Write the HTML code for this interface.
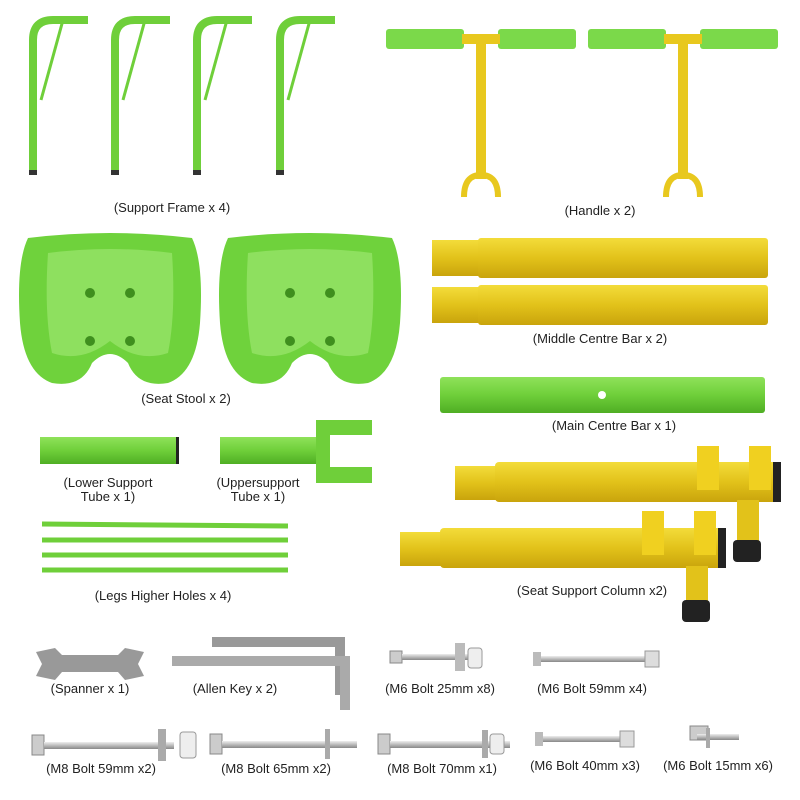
<!DOCTYPE html>
<html><head><meta charset="utf-8"><style>
body{margin:0;background:#fff}
svg{display:block}
text{font-family:"Liberation Sans",sans-serif;font-size:13px;fill:#222;text-anchor:middle}
</style></head><body>
<svg width="800" height="800" viewBox="0 0 800 800">
<defs>
<linearGradient id="gy" x1="0" y1="0" x2="0" y2="1"><stop offset="0" stop-color="#f3dc3a"/><stop offset=".5" stop-color="#e2c21a"/><stop offset="1" stop-color="#c9a40c"/></linearGradient>
<linearGradient id="gg" x1="0" y1="0" x2="0" y2="1"><stop offset="0" stop-color="#8fe25a"/><stop offset=".5" stop-color="#6fcf3a"/><stop offset="1" stop-color="#4fae24"/></linearGradient>
<linearGradient id="gm" x1="0" y1="0" x2="0" y2="1"><stop offset="0" stop-color="#eee"/><stop offset=".5" stop-color="#bbb"/><stop offset="1" stop-color="#888"/></linearGradient>
<g id="frame"><path d="M0 175 V40 Q0 20 20 20 H55" fill="none" stroke="#6fcf3a" stroke-width="8"/><path d="M30 20 L8 100" stroke="#6fcf3a" stroke-width="3"/><rect x="-4" y="170" width="8" height="5" fill="#333"/></g>
<g id="handle"><rect x="0" y="0" width="78" height="20" rx="3" fill="#7bd94a"/><rect x="112" y="0" width="78" height="20" rx="3" fill="#7bd94a"/><rect x="76" y="5" width="38" height="10" fill="#e8c81e"/><rect x="90" y="10" width="10" height="140" fill="#e8c81e"/><path d="M78 168 Q78 146 95 146 Q112 146 112 168" fill="none" stroke="#e8c81e" stroke-width="6"/></g>
<g id="seat"><path d="M10 5 Q92 -5 174 5 Q186 30 182 90 Q178 140 150 150 Q120 155 110 130 Q92 112 74 130 Q64 155 34 150 Q6 140 2 90 Q-2 30 10 5Z" fill="#6fd23c"/><path d="M30 20 Q92 12 154 20 Q158 80 150 120 Q120 130 92 108 Q64 130 34 120 Q26 80 30 20Z" fill="#8ee05f"/><circle cx="72" cy="60" r="5" fill="#3f8f1e"/><circle cx="112" cy="60" r="5" fill="#3f8f1e"/><circle cx="72" cy="108" r="5" fill="#3f8f1e"/><circle cx="112" cy="108" r="5" fill="#3f8f1e"/></g>
<g id="bolt"><rect x="0" y="-6" width="12" height="12" fill="#ccc" stroke="#888"/><rect x="12" y="-3" width="80" height="6" fill="url(#gm)"/></g>
</defs>
<use href="#frame" x="33" y="0"/><use href="#frame" x="115" y="0"/><use href="#frame" x="197" y="0"/><use href="#frame" x="280" y="0"/>
<text x="172" y="212">(Support Frame x 4)</text>
<use href="#handle" x="386" y="29"/><use href="#handle" x="588" y="29"/>
<text x="600" y="215">(Handle x 2)</text>
<use href="#seat" x="18" y="233"/><use href="#seat" x="218" y="233"/>
<text x="186" y="403">(Seat Stool x 2)</text>
<rect x="432" y="240" width="50" height="36" fill="url(#gy)"/><rect x="478" y="238" width="290" height="40" rx="3" fill="url(#gy)"/>
<rect x="432" y="287" width="50" height="36" fill="url(#gy)"/><rect x="478" y="285" width="290" height="40" rx="3" fill="url(#gy)"/>
<text x="600" y="343">(Middle Centre Bar x 2)</text>
<rect x="440" y="377" width="325" height="36" rx="3" fill="url(#gg)"/><circle cx="602" cy="395" r="4" fill="#fff"/>
<text x="614" y="430">(Main Centre Bar x 1)</text>
<rect x="40" y="437" width="138" height="27" fill="url(#gg)"/><rect x="176" y="437" width="3" height="27" fill="#222"/>
<text x="108" y="487">(Lower Support</text><text x="108" y="501">Tube x 1)</text>
<rect x="220" y="437" width="98" height="27" fill="url(#gg)"/><path d="M316 420 H372 V435 H330 V467 H372 V483 H316Z" fill="#6fcf3a"/>
<text x="258" y="487">(Uppersupport</text><text x="258" y="501">Tube x 1)</text>
<g stroke="#6fcf3a" stroke-width="5"><line x1="42" y1="524" x2="288" y2="526"/><line x1="42" y1="540" x2="288" y2="540"/><line x1="42" y1="555" x2="288" y2="555"/><line x1="42" y1="570" x2="288" y2="570"/></g>
<text x="163" y="600">(Legs Higher Holes x 4)</text>
<rect x="455" y="466" width="45" height="34" fill="url(#gy)"/><rect x="495" y="462" width="285" height="40" rx="4" fill="url(#gy)"/><rect x="773" y="462" width="8" height="40" fill="#222"/>
<rect x="737" y="500" width="22" height="45" fill="#e2c21a"/><rect x="733" y="540" width="28" height="22" rx="4" fill="#222"/>
<rect x="697" y="446" width="22" height="44" fill="#f0d020"/><rect x="749" y="446" width="22" height="44" fill="#f0d020"/>
<rect x="400" y="532" width="45" height="34" fill="url(#gy)"/><rect x="440" y="528" width="285" height="40" rx="4" fill="url(#gy)"/><rect x="718" y="528" width="8" height="40" fill="#222"/>
<rect x="686" y="566" width="22" height="40" fill="#e2c21a"/><rect x="682" y="600" width="28" height="22" rx="4" fill="#222"/>
<rect x="642" y="511" width="22" height="44" fill="#f0d020"/><rect x="694" y="511" width="22" height="44" fill="#f0d020"/>
<text x="592" y="595">(Seat Support Column x2)</text>
<path d="M36 652 L55 648 L62 655 H118 L125 648 L144 652 L138 664 L144 676 L125 680 L118 672 H62 L55 680 L36 676 L42 664Z" fill="#999"/>
<text x="90" y="693">(Spanner x 1)</text>
<path d="M212 637 H345 V695 H335 V647 H212Z" fill="#999"/><path d="M172 656 H350 V710 H340 V666 H172Z" fill="#aaa"/>
<text x="235" y="693">(Allen Key x 2)</text>
<use href="#bolt" x="390" y="657" transform="translate(0,0)"/><rect x="455" y="643" width="10" height="28" fill="#bbb"/><rect x="468" y="648" width="14" height="20" rx="3" fill="#eee" stroke="#999"/>
<text x="440" y="693">(M6 Bolt 25mm x8)</text>
<rect x="533" y="656" width="120" height="6" fill="url(#gm)"/><rect x="533" y="652" width="8" height="14" fill="#bbb"/><rect x="645" y="651" width="14" height="16" fill="#ddd" stroke="#999"/>
<text x="592" y="693">(M6 Bolt 59mm x4)</text>
<rect x="32" y="735" width="12" height="20" fill="#ccc" stroke="#888"/><rect x="44" y="742" width="130" height="7" fill="url(#gm)"/><rect x="158" y="729" width="8" height="32" fill="#aaa"/><rect x="180" y="732" width="16" height="26" rx="3" fill="#eee" stroke="#999"/>
<text x="101" y="773">(M8 Bolt 59mm x2)</text>
<rect x="210" y="734" width="12" height="20" fill="#ccc" stroke="#888"/><rect x="222" y="741" width="135" height="7" fill="url(#gm)"/><rect x="325" y="729" width="5" height="30" fill="#aaa"/>
<text x="276" y="773">(M8 Bolt 65mm x2)</text>
<rect x="378" y="734" width="12" height="20" fill="#ccc" stroke="#888"/><rect x="390" y="741" width="120" height="7" fill="url(#gm)"/><rect x="482" y="730" width="6" height="28" fill="#aaa"/><rect x="490" y="734" width="14" height="20" rx="3" fill="#eee" stroke="#999"/>
<text x="442" y="773">(M8 Bolt 70mm x1)</text>
<rect x="535" y="736" width="90" height="6" fill="url(#gm)"/><rect x="535" y="732" width="8" height="14" fill="#bbb"/><rect x="620" y="731" width="14" height="16" fill="#ddd" stroke="#999"/>
<text x="585" y="770">(M6 Bolt 40mm x3)</text>
<rect x="690" y="726" width="18" height="14" fill="#ccc" stroke="#888"/><rect x="697" y="734" width="42" height="6" fill="url(#gm)"/><rect x="706" y="728" width="4" height="20" fill="#aaa"/>
<text x="718" y="770">(M6 Bolt 15mm x6)</text>
</svg>
</body></html>
